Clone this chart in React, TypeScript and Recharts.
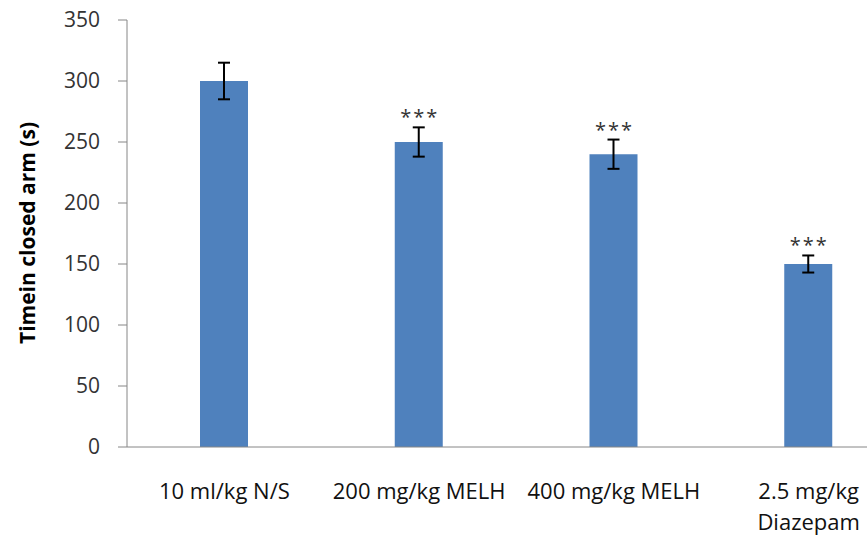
import React from 'react';
import { BarChart, Bar, XAxis, YAxis, ErrorBar, LabelList } from 'recharts';

const categories = ['10 ml/kg N/S', '200 mg/kg MELH', '400 mg/kg MELH', '2.5 mg/kg\nDiazepam'];
const timeValues = [300, 250, 240, 150];
const timeErrors = [15, 12, 12, 7];
const significance = ['', '***', '***', '***'];
const yTicks = [0, 50, 100, 150, 200, 250, 300, 350];

const data = categories.map((name, i) => ({
  name,
  value: timeValues[i],
  err: timeErrors[i],
  sig: significance[i],
}));

const FONT = '"Open Sans", sans-serif';

const CategoryTick = (props: any) => {
  const { x, y, payload } = props;
  const lines = String(payload.value).split('\n');
  return (
    <g transform={`translate(${x},${y})`}>
      {lines.map((line: string, i: number) => (
        <text key={i} x={0} y={i * 31} dy={44} textAnchor="middle" fill="#111" fontSize={22} fontFamily={FONT}>
          {line}
        </text>
      ))}
    </g>
  );
};

const SigLabel = (props: any) => {
  const { x, y, width, height, index } = props;
  const d = data[index];
  if (!d || !d.sig) return null;
  const pxPerUnit = height / d.value;
  const top = y - d.err * pxPerUnit;
  return (
    <text x={x + width / 2 + 1} y={top - 3} textAnchor="middle" fill="#333" fontSize={20} letterSpacing={2} fontFamily={FONT}>
      {d.sig}
    </text>
  );
};

const App: React.FC = () => {
  return (
    <div style={{ position: 'absolute', left: 0, top: 0, width: 867, height: 536, overflow: 'hidden', background: '#fff' }}>
      <BarChart width={920} height={536} data={data} margin={{ top: 20, right: 14, bottom: 29, left: 0 }} barCategoryGap={0}>
        <XAxis
          dataKey="name"
          interval={0}
          tickLine={false}
          axisLine={{ stroke: '#868686', strokeWidth: 1 }}
          tick={<CategoryTick />}
          height={60}
        />
        <YAxis
          width={127}
          domain={[0, 350]}
          ticks={yTicks}
          tickSize={9}
          tickMargin={18}
          tickLine={{ stroke: '#868686' }}
          axisLine={{ stroke: '#868686', strokeWidth: 1 }}
          tick={{ fill: '#333', fontSize: 21, fontFamily: FONT }}
          label={{
            content: () => (
              <text
                x={27}
                y={233}
                transform="rotate(-90 27 233)"
                textAnchor="middle"
                dominantBaseline="central"
                fontSize={21}
                fontWeight="bold"
                fontFamily={FONT}
                fill="#000"
              >
                Timein closed arm (s)
              </text>
            ),
          }}
        />
        <Bar dataKey="value" fill="#4F81BD" barSize={48} isAnimationActive={false}>
          <ErrorBar dataKey="err" width={6} stroke="#000" strokeWidth={2} />
          <LabelList dataKey="sig" content={<SigLabel />} />
        </Bar>
      </BarChart>
    </div>
  );
};

export default App;
